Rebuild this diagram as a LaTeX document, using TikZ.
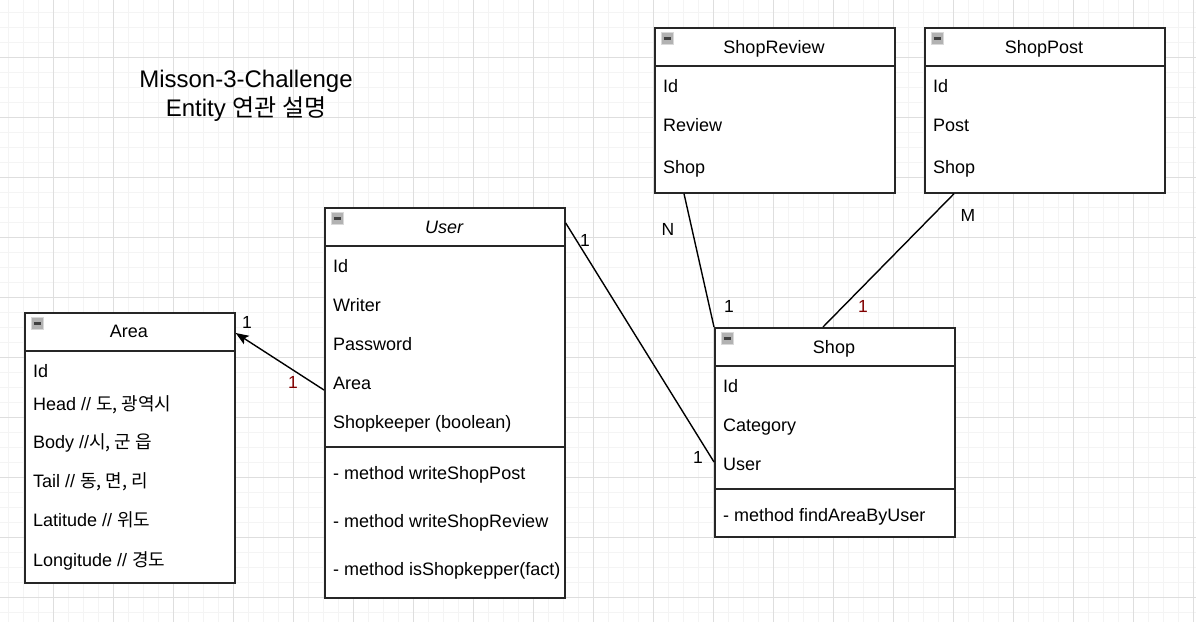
\documentclass[tikz,border=0pt]{standalone}
\usepackage{fontspec}
\setmainfont{Liberation Sans}
\newfontfamily\krfont{Noto Sans CJK KR}
\usepackage{xcolor}
\usetikzlibrary{arrows.meta, positioning, calc}

\definecolor{gridmajor}{HTML}{DEDEDE}
\definecolor{gridminor}{HTML}{F4F4F4}
\definecolor{cardred}{HTML}{800000}

\begin{document}
\begin{tikzpicture}[
  x=1pt, y=-1pt,
  >=Stealth,
  entity/.style={rectangle, draw=black!85, line width=1.7pt, fill=white, inner sep=0pt, anchor=north west},
  sep/.style={draw=black!85, line width=1.7pt},
  title/.style={anchor=base, inner sep=0pt, font=\fontsize{18}{21}\selectfont},
  field/.style={anchor=base west, inner sep=0pt, font=\fontsize{18}{21}\selectfont},
  icon/.style={rectangle, draw=gray!30, line width=1pt, fill=gray!60, minimum size=12pt, inner sep=0pt, anchor=north west,
    path picture={\draw[line width=2.2pt, black!75] ([xshift=2.5pt]path picture bounding box.west) -- ([xshift=-2.5pt]path picture bounding box.east);}},
  card/.style={inner sep=0pt, font=\fontsize{17.5}{20}\selectfont},
  link/.style={line width=1.4pt, draw=black}
]

% ---------------------------------------------------
% Background grid
% ---------------------------------------------------
\useasboundingbox (0,0) rectangle (1196,622);
\fill[white] (0,0) rectangle (1196,622);
\foreach \gx in {8,23,...,1196} \draw[gridminor, line width=1pt] (\gx,0) -- (\gx,622);
\foreach \gy in {12,27,...,622} \draw[gridminor, line width=1pt] (0,\gy) -- (1196,\gy);
\foreach \gx in {53,113,...,1196} \draw[gridmajor, line width=1pt] (\gx,0) -- (\gx,622);
\foreach \gy in {57,117,...,622} \draw[gridmajor, line width=1pt] (0,\gy) -- (1196,\gy);

% ---------------------------------------------------
% Title
% ---------------------------------------------------
\node[inner sep=0pt, font=\fontsize{24}{28}\selectfont] (heading) at (246,81) {Misson-3-Challenge};
\node[inner sep=0pt, font=\fontsize{24}{28}\selectfont] (subheading) at (246,109) {Entity \krfont 연관 설명};

% ---------------------------------------------------
% 1. Area
% ---------------------------------------------------
\node[entity, minimum width=210pt, minimum height=270pt] (area) at (24,312) {};
\draw[sep] ([yshift=-39pt]area.north west) -- ([yshift=-39pt]area.north east);
\node[icon] (areaIcon) at ([xshift=7pt,yshift=-5pt]area.north west) {};
\node[title] (areaTitle) at (129,337.5) {Area};
\node[field] (areaId) at (33,377.5) {Id};
\node[field] (areaHead) at (33,410.5) {Head // {\krfont 도, 광역시}};
\node[field] (areaBody) at (33,448.5) {Body //{\krfont 시, 군 읍}};
\node[field] (areaTail) at (33,487.5) {Tail // {\krfont 동, 면, 리}};
\node[field] (areaLat) at (33,526.5) {Latitude // {\krfont 위도}};
\node[field] (areaLon) at (33,566) {Longitude // {\krfont 경도}};

% ---------------------------------------------------
% 2. User
% ---------------------------------------------------
\node[entity, minimum width=240pt, minimum height=390pt] (user) at (324,207) {};
\draw[sep] ([yshift=-39pt]user.north west) -- ([yshift=-39pt]user.north east);
\draw[sep] ([yshift=-240pt]user.north west) -- ([yshift=-240pt]user.north east);
\node[icon] (userIcon) at ([xshift=7pt,yshift=-5pt]user.north west) {};
\node[title, font=\fontsize{18}{21}\selectfont\itshape] (userTitle) at (444,233.5) {User};
\node[field] (userId) at (333,272.5) {Id};
\node[field] (userWriter) at (333,311.5) {Writer};
\node[field] (userPw) at (333,350.5) {Password};
\node[field] (userArea) at (333,389.5) {Area};
\node[field] (userKeeper) at (333,428.5) {Shopkeeper (boolean)};
\node[field] (userPost) at (333,479.5) {- method writeShopPost};
\node[field] (userReview) at (333,527.5) {- method writeShopReview};
\node[field] (userCheck) at (333,575.5) {- method isShopkepper(fact)};

% ---------------------------------------------------
% 3. ShopReview & ShopPost
% ---------------------------------------------------
\node[entity, minimum width=240pt, minimum height=165pt] (review) at (654,27) {};
\draw[sep] ([yshift=-39pt]review.north west) -- ([yshift=-39pt]review.north east);
\node[icon] (reviewIcon) at ([xshift=7pt,yshift=-5pt]review.north west) {};
\node[title] (reviewTitle) at (774,53.5) {ShopReview};
\node[field] (reviewId) at (663,92.5) {Id};
\node[field] (reviewText) at (663,131.5) {Review};
\node[field] (reviewShop) at (663,173.5) {Shop};

\node[entity, minimum width=240pt, minimum height=165pt] (post) at (924,27) {};
\draw[sep] ([yshift=-39pt]post.north west) -- ([yshift=-39pt]post.north east);
\node[icon] (postIcon) at ([xshift=7pt,yshift=-5pt]post.north west) {};
\node[title] (postTitle) at (1044,53.5) {ShopPost};
\node[field] (postId) at (933,92.5) {Id};
\node[field] (postText) at (933,131.5) {Post};
\node[field] (postShop) at (933,173.5) {Shop};

% ---------------------------------------------------
% 4. Shop
% ---------------------------------------------------
\node[entity, minimum width=240pt, minimum height=209pt] (shop) at (714,327) {};
\draw[sep] ([yshift=-39pt]shop.north west) -- ([yshift=-39pt]shop.north east);
\draw[sep] ([yshift=-162pt]shop.north west) -- ([yshift=-162pt]shop.north east);
\node[icon] (shopIcon) at ([xshift=7pt,yshift=-5pt]shop.north west) {};
\node[title] (shopTitle) at (834,353.5) {Shop};
\node[field] (shopId) at (723,392.5) {Id};
\node[field] (shopCat) at (723,431.5) {Category};
\node[field] (shopUser) at (723,470.5) {User};
\node[field] (shopFind) at (723,521) {- method findAreaByUser};

% ---------------------------------------------------
% Draw Connections
% ---------------------------------------------------
\coordinate (userLeft) at ([yshift=-183pt]user.north west);
\coordinate (areaRight) at ([yshift=-21pt]area.north east);
\coordinate (userRight) at ([yshift=-16pt]user.north east);
\coordinate (shopLeft) at ([yshift=-135pt]shop.north west);
\coordinate (reviewFoot) at ([xshift=30pt]review.south west);
\coordinate (postFoot) at ([xshift=30pt]post.south west);
\coordinate (shopTop) at ([xshift=109pt]shop.north west);

\draw[link, -{Stealth[length=13pt, width=10pt, inset=3pt]}] (userLeft) -- (areaRight);
\draw[link] (userRight) -- (shopLeft);
\draw[link] (reviewFoot) -- (shop.north west);
\draw[link] (postFoot) -- (shopTop);

\node[card] (cardAreaOne) at (247,322) {1};
\node[card, text=cardred] (cardAreaUser) at (293,382) {1};
\node[card] (cardUserShop) at (585,240) {1};
\node[card] (cardShopUser) at (698,457) {1};
\node[card] (cardReviewN) at (668,229) {N};
\node[card] (cardShopReview) at (729,306) {1};
\node[card] (cardPostM) at (968,215) {M};
\node[card, text=cardred] (cardShopPost) at (863,306) {1};

\end{tikzpicture}
\end{document}
